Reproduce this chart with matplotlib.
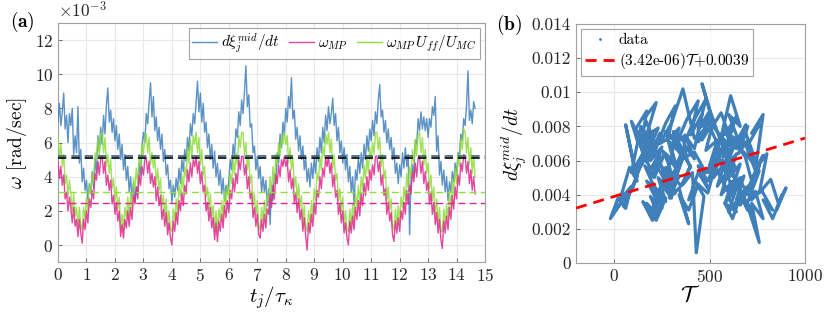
import numpy as np
import matplotlib
matplotlib.use('Agg')
import matplotlib.pyplot as plt
from matplotlib.lines import Line2D
from matplotlib.ticker import FuncFormatter

plt.rcParams['font.family'] = 'cmr10'
plt.rcParams['mathtext.fontset'] = 'cm'
plt.rcParams['axes.unicode_minus'] = False
plt.rcParams['axes.formatter.use_mathtext'] = True

# sample spacing in t_j/tau_kappa, one row below = one time unit
dt = 0.05

# d xi_j^mid / dt  (x 1e-3 rad/sec)
dxi_mid = [
    7.2, 8.3, 7.0, 7.8, 8.9, 6.8, 7.6, 6.0, 7.7, 7.0, 8.0, 5.3, 6.4, 5.4, 8.1, 4.8, 5.6, 3.7, 4.5, 3.2,
    3.8, 2.6, 3.6, 3.0, 4.3, 3.3, 5.1, 4.2, 6.4, 5.5, 6.9, 5.9, 7.6, 6.5, 8.2, 9.2, 7.2, 7.9, 6.6, 7.4,
    6.1, 7.0, 5.6, 6.5, 5.0, 5.9, 4.4, 5.3, 3.8, 4.6, 3.1, 4.0, 2.7, 3.6, 2.5, 3.4, 3.0, 4.8, 4.1, 5.8,
    6.6, 6.0, 7.7, 7.1, 8.4, 9.5, 7.5, 8.7, 6.7, 7.5, 6.1, 6.9, 5.6, 6.5, 4.9, 5.6, 4.1, 4.7, 3.3, 3.8,
    2.5, 3.5, 2.8, 3.9, 3.2, 4.5, 3.6, 5.0, 4.3, 5.6, 4.9, 6.3, 5.5, 7.1, 6.4, 7.7, 7.1, 8.4, 9.6, 7.8,
    8.9, 7.2, 8.3, 6.6, 7.2, 5.7, 6.5, 5.0, 5.9, 4.5, 5.5, 4.0, 4.8, 3.5, 4.4, 3.0, 3.9, 2.6, 3.5, 3.0,
    3.8, 5.0, 4.4, 5.9, 5.2, 6.8, 6.3, 7.8, 7.0, 8.5, 7.7, 9.0, 10.5, 8.1, 8.8, 6.9, 7.1, 5.4, 5.8, 4.4,
    5.2, 3.9, 4.6, 3.1, 4.0, 3.1, 3.8, 2.3, 3.3, 1.2, 3.5, 2.6, 4.2, 3.6, 5.4, 4.8, 6.5, 5.7, 7.2, 6.4,
    8.0, 7.2, 8.7, 8.0, 9.8, 7.4, 7.9, 6.2, 6.9, 5.5, 6.4, 5.0, 5.8, 4.4, 5.1, 3.7, 4.5, 3.4, 4.8, 3.9,
    5.1, 4.2, 5.7, 4.9, 6.3, 5.4, 6.9, 6.0, 7.6, 6.7, 8.1, 7.1, 7.7, 8.6, 7.0, 7.7, 6.1, 6.9, 5.4, 6.1,
    4.8, 5.7, 4.4, 5.3, 3.7, 4.6, 3.1, 4.0, 2.3, 4.4, 3.8, 5.1, 4.2, 5.4, 4.5, 5.9, 5.0, 6.4, 5.5, 6.8,
    6.1, 7.3, 6.4, 7.8, 7.1, 8.5, 9.4, 7.5, 7.9, 6.6, 7.3, 6.0, 6.8, 5.6, 6.3, 5.0, 5.7, 4.2, 4.8, 3.6,
    4.7, 4.0, 5.4, 4.5, 5.7, 4.6, 5.3, 0.6, 3.9, 4.7, 4.1, 6.1, 5.9, 7.4, 6.7, 7.8, 6.8, 7.5, 6.7, 7.4,
    6.3, 7.4, 6.9, 8.1, 7.6, 8.7, 5.5, 6.4, 4.1, 4.9, 3.5, 4.4, 3.1, 4.0, 2.6, 3.7, 3.1, 4.3, 3.7, 4.8,
    4.1, 5.4, 5.3, 6.5, 6.1, 7.4, 7.0, 8.2, 10.2, 7.3, 7.9, 7.1, 8.4, 8.0,
]

# omega_MP  (x 1e-3 rad/sec)
omega_mp = [
    4.9, 3.9, 4.6, 3.5, 4.1, 2.7, 3.1, 2.0, 2.8, 2.2, 1.3, 2.2, 1.1, 1.5, 0.5, 1.5, 0.7, 0.1, 1.5, 0.9,
    2.0, 1.3, 2.7, 2.2, 3.2, 2.7, 4.2, 3.8, 4.9, 4.1, 5.1, 5.2, 4.2, 4.9, 3.5, 4.1, 3.2, 3.8, 2.4, 2.9,
    1.8, 2.5, 1.4, 2.0, 0.5, 1.2, 0.4, 1.5, 1.0, 2.0, 1.1, 2.2, 1.5, 2.9, 2.4, 3.4, 2.7, 4.1, 3.5, 4.6,
    4.1, 5.0, 5.1, 4.2, 4.9, 3.6, 4.2, 3.4, 4.0, 2.6, 3.4, 2.3, 2.9, 1.5, 2.1, 1.1, 1.9, 0.6, 1.3, 0.4,
    0.0, 1.4, 0.8, 1.9, 1.2, 2.6, 2.0, 3.1, 2.3, 3.5, 3.0, 4.4, 3.7, 4.8, 4.0, 5.0, 4.6, 5.2, 4.2, 4.9,
    3.6, 4.3, 3.1, 3.5, 2.0, 2.5, 1.4, 2.2, 1.0, 1.6, 0.3, 1.3, 0.2, 1.4, 0.8, 1.8, 1.0, 2.3, 1.6, 2.6,
    1.9, 3.2, 2.7, 3.9, 3.1, 4.2, 3.6, 5.0, 4.4, 5.2, 5.2, 4.1, 4.7, 3.3, 4.0, 2.7, 3.1, 1.6, 2.2, 1.1,
    1.8, 0.6, 0.4, 1.5, 0.8, 1.8, 1.0, 2.1, 1.8, 3.0, 2.2, 3.5, 2.7, 4.1, 3.6, 4.7, 4.0, 5.0, 4.6, 5.2,
    4.6, 5.0, 3.7, 4.4, 3.3, 3.9, 2.5, 3.0, 1.9, 2.7, 1.5, 2.1, 0.8, 1.6, 0.5, -0.3, 1.3, 0.7, 1.8, 1.1,
    2.4, 1.8, 3.2, 2.8, 4.0, 3.3, 4.5, 4.0, 5.1, 4.6, 5.2, 4.2, 4.8, 3.4, 4.1, 2.8, 3.2, 1.8, 2.4, 1.3,
    2.0, 0.7, 1.3, 0.4, 0.0, 1.4, 0.7, 1.7, 0.9, 2.2, 1.5, 2.6, 1.7, 3.0, 2.3, 3.6, 2.9, 4.0, 3.2, 4.4,
    3.8, 4.7, 4.1, 5.2, 5.2, 4.3, 4.9, 3.5, 4.1, 2.9, 3.3, 1.8, 2.5, 1.4, 1.9, 0.6, 0.2, 1.4, 0.7, 1.6,
    0.8, 2.0, 1.5, 2.5, 1.8, 3.2, 2.4, 3.5, 3.0, 4.3, 3.7, 4.8, 4.0, 5.1, 5.2, 4.2, 4.9, 3.6, 4.3, 3.2,
    3.7, 2.4, 3.1, 1.8, 2.5, 1.2, 1.9, 0.7, 1.5, 0.3, -0.2, 1.4, 0.7, 1.7, 0.9, 2.2, 1.5, 2.9, 2.1, 3.4,
    2.7, 4.1, 3.5, 4.8, 4.3, 5.3, 5.2, 4.2, 4.9, 3.6, 4.4, 3.2, 4.0, 3.0,
]

# omega_MP U_ff / U_MC  (x 1e-3 rad/sec)
omega_mp_u = [
    6.3, 5.1, 5.9, 4.6, 5.3, 3.6, 4.1, 2.8, 3.8, 3.0, 2.0, 3.0, 1.7, 2.2, 1.0, 2.2, 1.2, 0.9, 2.2, 1.5,
    2.8, 2.0, 3.6, 3.0, 4.2, 3.6, 5.4, 5.0, 6.3, 5.3, 6.5, 6.6, 5.4, 6.3, 4.6, 5.3, 4.2, 5.0, 3.3, 3.9,
    2.6, 3.4, 2.1, 2.8, 1.0, 1.8, 0.9, 2.2, 1.6, 2.8, 1.7, 3.0, 2.2, 3.9, 3.3, 4.5, 3.6, 5.3, 4.6, 5.9,
    5.3, 6.4, 6.5, 5.4, 6.3, 4.7, 5.4, 4.5, 5.2, 3.5, 4.5, 3.2, 3.9, 2.2, 2.9, 1.7, 2.7, 1.1, 2.0, 0.9,
    0.8, 2.1, 1.4, 2.7, 1.8, 3.5, 2.8, 4.1, 3.2, 4.6, 4.0, 5.7, 4.8, 6.2, 5.2, 6.4, 5.9, 6.6, 5.4, 6.3,
    4.7, 5.6, 4.1, 4.6, 2.8, 3.4, 2.1, 3.0, 1.6, 2.3, 0.8, 2.0, 0.8, 2.1, 1.4, 2.6, 1.6, 3.2, 2.3, 3.5,
    2.7, 4.2, 3.6, 5.1, 4.1, 5.4, 4.7, 6.4, 5.7, 6.6, 6.6, 5.3, 6.0, 4.4, 5.2, 3.6, 4.1, 2.3, 3.0, 1.7,
    2.6, 1.1, 0.9, 2.2, 1.4, 2.6, 1.6, 2.9, 2.6, 4.0, 3.0, 4.6, 3.6, 5.3, 4.7, 6.0, 5.2, 6.4, 5.9, 6.6,
    5.9, 6.4, 4.8, 5.7, 4.4, 5.1, 3.4, 4.0, 2.7, 3.6, 2.2, 2.9, 1.4, 2.3, 1.0, 0.8, 2.0, 1.2, 2.6, 1.7,
    3.3, 2.6, 4.2, 3.8, 5.2, 4.4, 5.8, 5.2, 6.5, 5.9, 6.6, 5.4, 6.2, 4.5, 5.3, 3.8, 4.2, 2.6, 3.3, 2.0,
    2.8, 1.2, 2.0, 0.9, 0.8, 2.1, 1.2, 2.4, 1.5, 3.0, 2.2, 3.5, 2.4, 4.0, 3.2, 4.7, 3.9, 5.2, 4.2, 5.7,
    5.0, 6.0, 5.3, 6.6, 6.6, 5.6, 6.3, 4.6, 5.3, 3.9, 4.4, 2.6, 3.4, 2.1, 2.7, 1.1, 0.9, 2.1, 1.2, 2.3,
    1.4, 2.8, 2.2, 3.4, 2.6, 4.2, 3.3, 4.6, 4.0, 5.6, 4.8, 6.2, 5.2, 6.5, 6.6, 5.4, 6.3, 4.7, 5.6, 4.2,
    4.8, 3.3, 4.1, 2.6, 3.4, 1.8, 2.7, 1.2, 2.2, 0.8, 0.8, 2.1, 1.2, 2.4, 1.5, 3.0, 2.2, 3.9, 2.9, 4.5,
    3.6, 5.3, 4.6, 6.2, 5.6, 6.8, 6.6, 5.4, 6.3, 4.7, 5.7, 4.2, 5.2, 4.0,
]

# time means drawn as dashed lines (x 1e-3)
mean_dxi = 5.22
mean_ref = 5.08
mean_mp_u = 3.08
mean_mp = 2.48

# T at the same samples (panel b)
T_vals = [
    120, 90, 150, 110, 170, 140, 200, 160, 120, 180, 140, 90, 150, 110, 60, 120, 80, 30, 90, 60,
    20, -20, 40, 0, 80, 50, 120, 90, 160, 130, 200, 170, 240, 210, 270, 320, 280, 340, 300, 360,
    380, 340, 400, 360, 300, 350, 300, 250, 300, 250, 200, 250, 200, 150, 200, 250, 210, 270, 230, 290,
    250, 310, 270, 330, 380, 440, 400, 460, 420, 370, 420, 370, 320, 370, 320, 270, 320, 270, 220, 270,
    220, 170, 230, 190, 250, 210, 270, 230, 290, 250, 310, 270, 330, 290, 350, 310, 370, 420, 480, 440,
    500, 460, 520, 480, 540, 500, 560, 520, 580, 540, 600, 560, 620, 580, 640, 600, 660, 620, 580, 640,
    600, 660, 620, 560, 620, 580, 520, 580, 540, 480, 540, 500, 460, 520, 560, 620, 580, 640, 600, 660,
    620, 680, 640, 700, 660, 720, 680, 740, 700, 760, 720, 780, 740, 700, 760, 720, 680, 740, 700, 650,
    700, 650, 600, 660, 610, 560, 620, 570, 630, 580, 640, 600, 660, 620, 680, 640, 700, 660, 720, 680,
    740, 700, 760, 720, 780, 740, 690, 740, 690, 640, 690, 640, 590, 640, 590, 540, 590, 540, 490, 540,
    490, 440, 490, 440, 390, 440, 390, 340, 390, 340, 290, 340, 290, 240, 290, 240, 190, 240, 190, 140,
    190, 140, 200, 150, 210, 160, 220, 170, 230, 180, 240, 190, 250, 200, 260, 210, 160, 220, 170, 230,
    180, 240, 290, 350, 400, 360, 410, 430, 470, 430, 490, 540, 600, 560, 620, 580, 640, 600, 660, 620,
    680, 640, 700, 760, 720, 780, 740, 800, 760, 820, 860, 900, 850, 880, 830, 780, 830, 770, 720, 660,
    600, 540, 480, 420, 360, 300, 240, 300, 360, 420, 480, 440, 500, 460,
]

fit_slope = 3.42e-06
fit_intercept = 0.0039

c_blue = '#3f7fba'
c_mag = '#e0288c'
c_green = '#8fdc3a'
c_grid = '#e8e8e8'
c_spine = '#a0a0a0'
c_text = '#262626'

fig = plt.figure(figsize=(8.3, 3.12), dpi=100)

# ---- (a) time series
ax1 = fig.add_axes([0.0699, 0.160, 0.5145, 0.766])
t1 = np.arange(len(dxi_mid)) * dt
t2 = np.arange(len(omega_mp)) * dt
t3 = np.arange(len(omega_mp_u)) * dt
ax1.plot(t1, dxi_mid, color=c_blue, lw=1.0, alpha=0.85, label=r'$d\xi_j^{mid}/dt$', zorder=3)
ax1.plot(t3, omega_mp_u, color=c_green, lw=1.0, alpha=0.85, zorder=4)
ax1.plot(t2, omega_mp, color=c_mag, lw=1.0, alpha=0.85, label=r'$\omega_{MP}$', zorder=5)
ax1.plot([], [], color=c_green, lw=1.0, label=r'$\omega_{MP}\,U_{ff}/U_{MC}$')
ax1.axhline(mean_dxi, color='#3a5f80', ls='--', lw=1.2, dashes=(5, 3), zorder=6)
ax1.axhline(mean_ref, color='black', ls='--', lw=1.2, dashes=(5, 3), zorder=6)
ax1.axhline(mean_mp_u, color=c_green, ls='--', lw=1.0, dashes=(5, 3), zorder=6)
ax1.axhline(mean_mp, color=c_mag, ls='--', lw=1.0, dashes=(5, 3), zorder=6)

ax1.set_xlim(0, 15)
ax1.set_ylim(-1, 13)
ax1.set_xticks(range(0, 16))
ax1.set_yticks(range(0, 13, 2))
ax1.set_xlabel(r'$t_j/\tau_\kappa$', fontsize=15, labelpad=0)
ax1.set_ylabel(r'$\omega$ [rad/sec]', fontsize=14, labelpad=4)
ax1.text(0.0, 1.012, r'$\times10^{-3}$', transform=ax1.transAxes, fontsize=12.5,
         color=c_text, ha='left', va='bottom')
leg1 = ax1.legend(loc='upper right', ncol=3, fontsize=11, frameon=True, fancybox=False,
                  handlelength=1.6, handletextpad=0.3, columnspacing=0.6,
                  borderpad=0.25, borderaxespad=0.3)
leg1.get_frame().set_edgecolor('#8c8c8c')
leg1.get_frame().set_linewidth(0.8)
fig.text(0.012, 0.93, r'$\mathbf{(a)}$', fontsize=14, ha='left', va='center')

# ---- (b) d xi / dt against T
ax2 = fig.add_axes([0.694, 0.157, 0.276, 0.766])
n = min(len(T_vals), len(dxi_mid))
xb = np.array(T_vals[:n], dtype=float)
yb = np.array(dxi_mid[:n]) * 1e-3
ax2.plot(xb, yb, color=c_blue, lw=2.3, solid_joinstyle='round', zorder=3)
xf = np.array([-200, 1000])
ax2.plot(xf, fit_slope * xf + fit_intercept, color='red', ls='--', lw=2.0,
         dashes=(4, 2.5), zorder=4)
ax2.set_xlim(-200, 1000)
ax2.set_ylim(0, 0.014)
ax2.set_xticks([0, 500, 1000])
ax2.set_yticks(np.arange(0, 0.0141, 0.002))
ax2.yaxis.set_major_formatter(FuncFormatter(lambda v, p: '%g' % round(v, 4)))
ax2.set_xlabel(r'$\mathcal{T}$', fontsize=16, labelpad=0)
ax2.set_ylabel(r'$d\xi_j^{mid}/dt$', fontsize=14, labelpad=2)
h_data = Line2D([], [], color=c_blue, marker='.', ms=2, ls='none')
h_fit = Line2D([], [], color='red', ls='--', lw=2.0, dashes=(4, 2.5))
leg2 = ax2.legend([h_data, h_fit], ['data', r'(3.42e-06)$\mathcal{T}$+0.0039'],
                  loc='upper left', fontsize=11, frameon=True, fancybox=False,
                  handlelength=2.0, handletextpad=0.2, borderpad=0.3,
                  labelspacing=0.3, borderaxespad=0.3)
leg2.get_frame().set_edgecolor('#8c8c8c')
leg2.get_frame().set_linewidth(0.8)
fig.text(0.598, 0.92, r'$\mathbf{(b)}$', fontsize=14, ha='left', va='center')

for ax in (ax1, ax2):
    ax.grid(True, color=c_grid, lw=0.8, zorder=0)
    ax.set_axisbelow(True)
    for s in ax.spines.values():
        s.set_color(c_spine)
        s.set_linewidth(0.8)
    ax.tick_params(direction='in', length=3, width=0.6, color='#555555',
                   labelsize=12.5, labelcolor=c_text, top=False, right=False)

fig.savefig('out.png', dpi=100)
